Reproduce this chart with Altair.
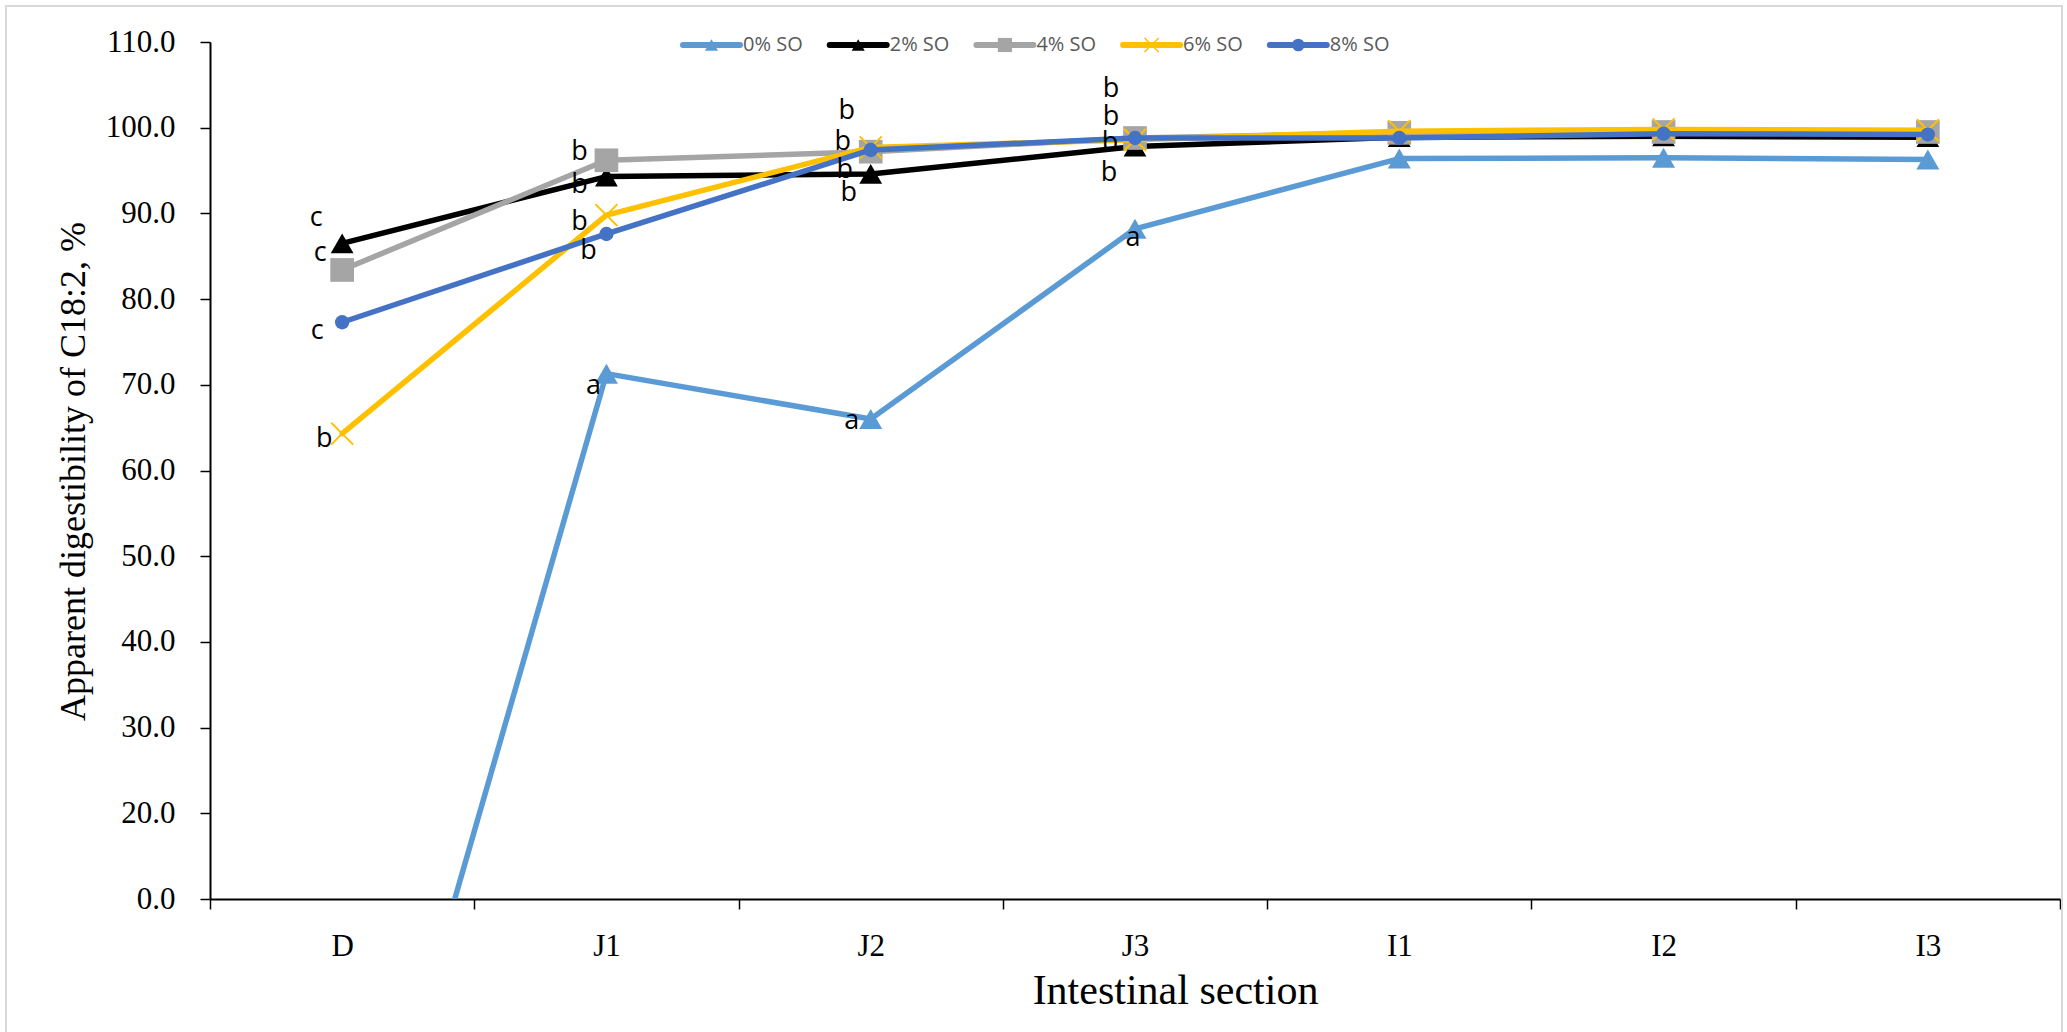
import json

import altair as alt
import pandas as pd

# ---- data -------------------------------------------------------------
sections = ["D", "J1", "J2", "J3", "I1", "I2", "I3"]
series_names = ["0% SO", "2% SO", "4% SO", "6% SO", "8% SO"]

so_0 = [-35.5, 71.3, 66.0, 88.2, 96.4, 96.5, 96.3]
so_2 = [86.5, 94.3, 94.6, 97.8, 98.9, 99.0, 98.9]
so_4 = [83.4, 96.2, 97.2, 98.8, 99.4, 99.5, 99.5]
so_6 = [64.3, 89.8, 97.7, 98.6, 99.6, 99.8, 99.7]
so_8 = [77.3, 87.6, 97.4, 98.8, 98.8, 99.3, 99.2]

y_tick_values = [10, 20, 30, 40, 50, 60, 70, 80, 90, 100, 110]
y_tick_labels = ["0.0", "20.0", "30.0", "40.0", "50.0", "60.0",
                 "70.0", "80.0", "90.0", "100.0", "110.0"]

# significance letters: (series, section, letter)
sig_letters = [
    ("2% SO", "D", "c"), ("4% SO", "D", "c"), ("8% SO", "D", "c"), ("6% SO", "D", "b"),
    ("4% SO", "J1", "b"), ("2% SO", "J1", "b"), ("6% SO", "J1", "b"), ("8% SO", "J1", "b"),
    ("0% SO", "J1", "a"),
    ("6% SO", "J2", "b"), ("8% SO", "J2", "b"), ("4% SO", "J2", "b"), ("2% SO", "J2", "b"),
    ("0% SO", "J2", "a"),
    ("6% SO", "J3", "b"), ("8% SO", "J3", "b"), ("4% SO", "J3", "b"), ("2% SO", "J3", "b"),
    ("0% SO", "J3", "a"),
]

# ---- layout / style ---------------------------------------------------
letter_offsets = [
    (-26, -25), (-22, -17), (-25, 9), (-18, 5),
    (-27, -8), (-27, 8), (-27, 7), (-18, 17),
    (-13, 12),
    (-24, -36), (-28, -8), (-26, 18), (-22, 19),
    (-19, 2),
    (-24, -51), (-24, -21), (-25, 5), (-26, 26),
    (-2, 9),
]

X_PATH = "M-1,-1L1,1M-1,1L1,-1"
styles = {
    "0% SO": dict(color="#5B9BD5", shape="triangle-up", size=530, filled=True, lsize=170),
    "2% SO": dict(color="#000000", shape="triangle-up", size=520, filled=True, lsize=170),
    "4% SO": dict(color="#A5A5A5", shape="square", size=560, filled=True, lsize=200),
    "6% SO": dict(color="#FFC000", shape=X_PATH, size=484, filled=False, lsize=200),
    "8% SO": dict(color="#4472C4", shape="circle", size=205, filled=True, lsize=160),
}

W, H = 1850, 857
SERIF = "Liberation Serif"
SANS = "Open Sans"

values_by_series = dict(zip(series_names, [so_0, so_2, so_4, so_6, so_8]))
df = pd.DataFrame(
    [{"series": s, "section": sec, "value": v}
     for s in series_names for sec, v in zip(sections, values_by_series[s])]
)

label_expr = "{}[indexof({}, datum.value)]".format(
    json.dumps(y_tick_labels).replace('"', "'"), json.dumps(y_tick_values)
)

x_enc = alt.X(
    "section:N",
    sort=sections,
    scale=alt.Scale(type="band", domain=sections, paddingInner=0, paddingOuter=0),
    axis=alt.Axis(
        title="Intestinal section",
        titleFont=SERIF, titleFontSize=42, titleFontWeight="normal", titleColor="black",
        titleX=965, titleY=104, titleBaseline="alphabetic", titleAlign="center",
        labelFont=SERIF, labelFontSize=31, labelColor="black", labelAngle=0,
        labelBaseline="alphabetic", labelPadding=46,
        tickBand="extent", tickSize=10, tickWidth=1.5, tickColor="black",
        domainColor="black", domainWidth=2, grid=False,
    ),
)
y_enc = alt.Y(
    "value:Q",
    scale=alt.Scale(domain=[10, 110], nice=False, zero=False),
    axis=alt.Axis(
        title="Apparent digestibility of C18:2, %",
        titleFont=SERIF, titleFontSize=36, titleFontWeight="normal", titleColor="black",
        titleX=-126, titleY=429, titleBaseline="alphabetic", titleAlign="center", titleAngle=-90,
        values=y_tick_values, labelExpr=label_expr,
        labelFont=SERIF, labelFontSize=31, labelColor="black", labelPadding=25,
        tickSize=10, tickWidth=1.5, tickColor="black",
        domainColor="black", domainWidth=2, grid=False,
    ),
)

layers = []

# outer chart frame
frame = alt.Chart(pd.DataFrame({"k": [0]})).mark_rect(
    fillOpacity=0, stroke="#D9D9D9", strokeWidth=2, clip=False
).encode(
    x=alt.value(-204), x2=alt.value(W + 2), y=alt.value(-36), y2=alt.value(H + 150)
)
layers.append(frame)

# series lines with markers
for s in series_names:
    st = styles[s]
    base = alt.Chart(df).transform_filter(alt.datum.series == s)
    line = base.mark_line(
        color=st["color"], strokeWidth=5.5, strokeJoin="round", strokeCap="round", clip=True
    ).encode(x=x_enc, y=y_enc)
    pts = base.mark_point(
        shape=st["shape"], size=st["size"], filled=st["filled"], color=st["color"],
        opacity=1, strokeWidth=2 if not st["filled"] else 1, clip=True
    ).encode(x=x_enc, y=y_enc)
    layers += [line, pts]

# significance letters
for (s, sec, letter), (dx, dy) in zip(sig_letters, letter_offsets):
    row = pd.DataFrame([{
        "section": sec,
        "value": values_by_series[s][sections.index(sec)],
        "letter": letter,
    }])
    layers.append(
        alt.Chart(row).mark_text(
            font=SANS, fontSize=27, color="black", align="center", baseline="middle",
            dx=dx, dy=dy
        ).encode(x=x_enc, y=y_enc, text="letter:N")
    )

# legend along the top
LEG_X0, LEG_STEP, LEG_LEN, LEG_Y = 473, 146.7, 57, 3
for i, s in enumerate(series_names):
    st = styles[s]
    x0 = LEG_X0 + i * LEG_STEP
    item = alt.Chart(pd.DataFrame({"series": [s]}))
    layers.append(item.mark_rule(
        color=st["color"], strokeWidth=6, strokeCap="round", clip=False
    ).encode(x=alt.value(x0), x2=alt.value(x0 + LEG_LEN), y=alt.value(LEG_Y)))
    layers.append(item.mark_point(
        shape=st["shape"], size=st["lsize"], filled=st["filled"], color=st["color"],
        opacity=1, strokeWidth=1.5 if not st["filled"] else 1, clip=False
    ).encode(x=alt.value(x0 + LEG_LEN / 2), y=alt.value(LEG_Y)))
    layers.append(item.mark_text(
        font=SANS, fontSize=20, color="#595959", align="left", baseline="middle", clip=False
    ).encode(x=alt.value(x0 + LEG_LEN + 3), y=alt.value(LEG_Y), text="series:N"))

chart = alt.layer(*layers).properties(
    width=W,
    height=H,
    padding={"left": 210, "top": 42, "right": 7, "bottom": 133},
    autosize=alt.AutoSizeParams(type="none"),
    background="white",
).configure_view(stroke=None)

chart.save("out.html", embed_options={"renderer": "svg", "actions": False})
